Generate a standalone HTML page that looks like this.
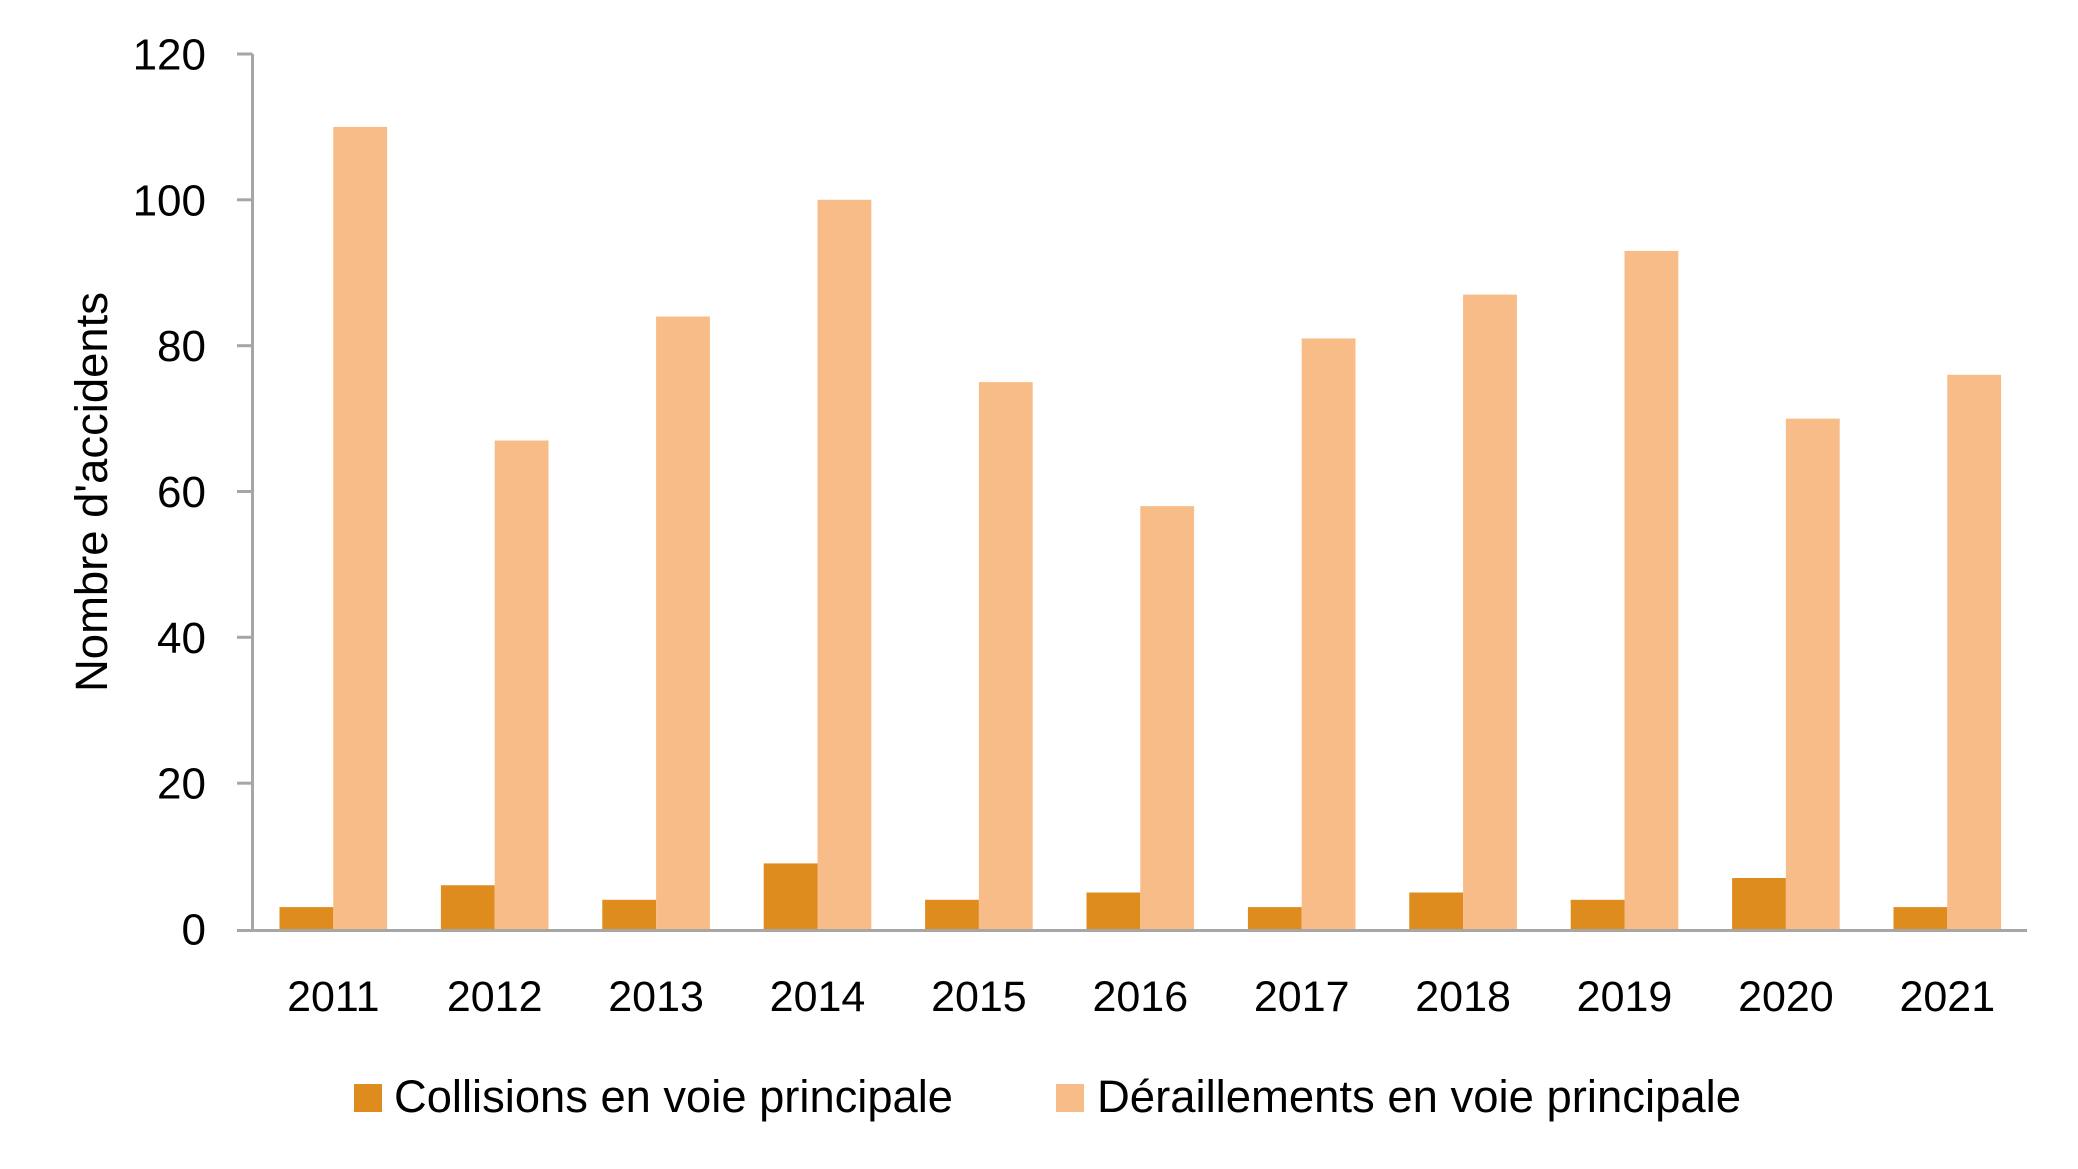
<!DOCTYPE html>
<html>
<head>
<meta charset="utf-8">
<style>
html,body{margin:0;padding:0;background:#fff;}
svg{display:block;}
text{font-family:"Liberation Sans",sans-serif;fill:#000;}
</style>
</head>
<body>
<svg width="2078" height="1169" viewBox="0 0 2078 1169" xmlns="http://www.w3.org/2000/svg">
<rect width="2078" height="1169" fill="#fff"/>
<g>
<!-- 2011 -->
<rect x="279.5" y="907.1" width="53.8" height="21.9" fill="#DE8C1D"/>
<rect x="333.3" y="126.9" width="53.8" height="802.1" fill="#F8BC88"/>
<!-- 2012 -->
<rect x="440.9" y="885.25" width="53.8" height="43.75" fill="#DE8C1D"/>
<rect x="494.7" y="440.5" width="53.8" height="488.5" fill="#F8BC88"/>
<!-- 2013 -->
<rect x="602.3" y="899.8" width="53.8" height="29.2" fill="#DE8C1D"/>
<rect x="656.1" y="316.5" width="53.8" height="612.5" fill="#F8BC88"/>
<!-- 2014 -->
<rect x="763.7" y="863.4" width="53.8" height="65.6" fill="#DE8C1D"/>
<rect x="817.5" y="199.8" width="53.8" height="729.2" fill="#F8BC88"/>
<!-- 2015 -->
<rect x="925.1" y="899.8" width="53.8" height="29.2" fill="#DE8C1D"/>
<rect x="978.9" y="382.1" width="53.8" height="546.9" fill="#F8BC88"/>
<!-- 2016 -->
<rect x="1086.5" y="892.5" width="53.8" height="36.5" fill="#DE8C1D"/>
<rect x="1140.3" y="506.1" width="53.8" height="422.9" fill="#F8BC88"/>
<!-- 2017 -->
<rect x="1247.9" y="907.1" width="53.8" height="21.9" fill="#DE8C1D"/>
<rect x="1301.7" y="338.4" width="53.8" height="590.6" fill="#F8BC88"/>
<!-- 2018 -->
<rect x="1409.3" y="892.5" width="53.8" height="36.5" fill="#DE8C1D"/>
<rect x="1463.1" y="294.6" width="53.8" height="634.4" fill="#F8BC88"/>
<!-- 2019 -->
<rect x="1570.7" y="899.8" width="53.8" height="29.2" fill="#DE8C1D"/>
<rect x="1624.5" y="250.9" width="53.8" height="678.1" fill="#F8BC88"/>
<!-- 2020 -->
<rect x="1732.1" y="878.0" width="53.8" height="51.0" fill="#DE8C1D"/>
<rect x="1785.9" y="418.6" width="53.8" height="510.4" fill="#F8BC88"/>
<!-- 2021 -->
<rect x="1893.5" y="907.1" width="53.8" height="21.9" fill="#DE8C1D"/>
<rect x="1947.3" y="374.8" width="53.8" height="554.2" fill="#F8BC88"/>
</g>
<g stroke="#A6A6A6" stroke-width="3" fill="none">
<line x1="252.5" y1="54" x2="252.5" y2="932"/>
<line x1="237" y1="930.5" x2="2027" y2="930.5"/>
<line x1="237" y1="54" x2="252.5" y2="54"/>
<line x1="237" y1="199.8" x2="252.5" y2="199.8"/>
<line x1="237" y1="345.7" x2="252.5" y2="345.7"/>
<line x1="237" y1="491.5" x2="252.5" y2="491.5"/>
<line x1="237" y1="637.3" x2="252.5" y2="637.3"/>
<line x1="237" y1="783.2" x2="252.5" y2="783.2"/>
</g>
<g font-size="44" text-anchor="end">
<text x="206" y="69.5">120</text>
<text x="206" y="215.3">100</text>
<text x="206" y="361.2">80</text>
<text x="206" y="507">60</text>
<text x="206" y="652.8">40</text>
<text x="206" y="798.7">20</text>
<text x="206" y="944.5">0</text>
</g>
<g font-size="43" text-anchor="middle">
<text x="333.3" y="1011">2011</text>
<text x="494.7" y="1011">2012</text>
<text x="656.1" y="1011">2013</text>
<text x="817.5" y="1011">2014</text>
<text x="978.9" y="1011">2015</text>
<text x="1140.3" y="1011">2016</text>
<text x="1301.7" y="1011">2017</text>
<text x="1463.1" y="1011">2018</text>
<text x="1624.5" y="1011">2019</text>
<text x="1785.9" y="1011">2020</text>
<text x="1947.3" y="1011">2021</text>
</g>
<text transform="translate(107,492) rotate(-90)" font-size="45" text-anchor="middle" textLength="400" lengthAdjust="spacingAndGlyphs">Nombre d'accidents</text>
<rect x="354" y="1084" width="28" height="28" fill="#DE8C1D"/>
<text x="394" y="1112" font-size="45" textLength="559" lengthAdjust="spacingAndGlyphs">Collisions en voie principale</text>
<rect x="1056" y="1084" width="28" height="28" fill="#F8BC88"/>
<text x="1097" y="1112" font-size="45" textLength="644" lengthAdjust="spacingAndGlyphs">Déraillements en voie principale</text>
</svg>
</body>
</html>
